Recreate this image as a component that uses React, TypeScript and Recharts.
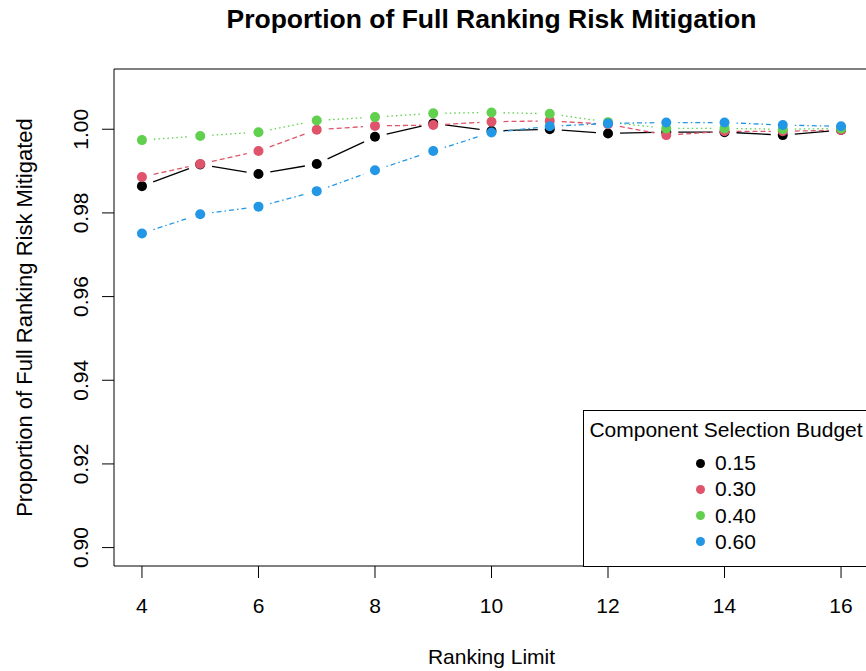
import { LineChart, Line, XAxis, YAxis, ReferenceArea, Legend, Label } from "recharts";

// ranking limit on x, one series per component selection budget
const rankingLimits = [4, 5, 6, 7, 8, 9, 10, 11, 12, 13, 14, 15, 16];
const budget015 = [0.9864, 0.9916, 0.9893, 0.9917, 0.9982, 1.0014, 0.9996, 1.0000, 0.9990, 0.9993, 0.9993, 0.9986, 0.9998];
const budget030 = [0.9886, 0.9917, 0.9948, 0.9999, 1.0008, 1.0010, 1.0018, 1.0020, 1.0012, 0.9986, 0.9995, 0.9995, 0.9998];
const budget040 = [0.9974, 0.9984, 0.9993, 1.0021, 1.0029, 1.0038, 1.0040, 1.0037, 1.0017, 1.0002, 1.0002, 1.0000, 1.0002];
const budget060 = [0.9751, 0.9797, 0.9815, 0.9852, 0.9902, 0.9948, 0.9992, 1.0007, 1.0014, 1.0016, 1.0016, 1.0010, 1.0007];

const budgetLabels = ["0.15", "0.30", "0.40", "0.60"];
const xTicks = [4, 6, 8, 10, 12, 14, 16];
const yTicks = [0.9, 0.92, 0.94, 0.96, 0.98, 1.0];

const series = [
  { key: "b015", name: budgetLabels[0], values: budget015, color: "#000000", dash: "" },
  { key: "b030", name: budgetLabels[1], values: budget030, color: "#DF536B", dash: "5 3" },
  { key: "b040", name: budgetLabels[2], values: budget040, color: "#61D04F", dash: "1.5 3" },
  { key: "b060", name: budgetLabels[3], values: budget060, color: "#2297E6", dash: "1.5 3 5 3" },
];

const data = rankingLimits.map((rank, i) => {
  const row: Record<string, number> = { rank };
  series.forEach((s) => { row[s.key] = s.values[i]; });
  return row;
});

// R-style axis ranges (4% padding around the limits)
const X_DOMAIN = [3.52, 16.48];
const Y_DOMAIN = [0.8956, 1.0144];

const FONT = "'Liberation Sans', Arial, sans-serif";
const GAP = 12; // type="b": segments stop short of each point

function pointAndSegment(color: string, dash: string) {
  return (p: any) => {
    const { cx, cy, index, points } = p;
    const next = points && points[index + 1];
    let seg = null;
    if (next) {
      const dx = next.x - cx;
      const dy = next.y - cy;
      const len = Math.hypot(dx, dy);
      if (len > 2 * GAP) {
        const ux = dx / len, uy = dy / len;
        seg = (
          <line x1={cx + ux * GAP} y1={cy + uy * GAP} x2={next.x - ux * GAP} y2={next.y - uy * GAP}
                stroke={color} strokeWidth={1.3} strokeDasharray={dash || undefined} />
        );
      }
    }
    return (
      <g key={`pt-${index}`}>
        {seg}
        <circle cx={cx} cy={cy} r={5} fill={color} />
      </g>
    );
  };
}

const YTick = ({ x, y, payload }: any) => {
  const tx = x - 12;
  return (
    <text x={tx} y={y} transform={`rotate(-90 ${tx} ${y})`} textAnchor="middle"
          fontSize={21} fontFamily={FONT} fill="#000">
      {Number(payload.value).toFixed(2)}
    </text>
  );
};

const XTick = ({ x, y, payload }: any) => (
  <text x={x} y={y + 33} textAnchor="middle" fontSize={21} fontFamily={FONT} fill="#000">
    {payload.value}
  </text>
);

const renderLegend = ({ payload }: any) => (
  <div style={{
    width: 286, height: 157, boxSizing: "border-box", border: "1px solid #000",
    background: "#fff", position: "relative", fontFamily: FONT, fontSize: 21, color: "#000",
  }}>
    <div style={{ position: "absolute", left: 0, right: 0, top: 6, lineHeight: "26px", textAlign: "center" }}>
      Component Selection Budget
    </div>
    {(payload || []).map((e: any, i: number) => (
      <div key={e.value} style={{
        position: "absolute", left: 112, top: 39 + i * 26.3, height: 26,
        display: "flex", alignItems: "center",
      }}>
        <span style={{ width: 9, height: 9, borderRadius: "50%", background: e.color, display: "inline-block" }} />
        <span style={{ marginLeft: 10, lineHeight: "26px" }}>{e.value}</span>
      </div>
    ))}
  </div>
);

export default function App() {
  return (
    <div style={{ position: "fixed", left: 0, top: 0, width: 866, height: 671, overflow: "hidden", background: "#fff" }}>
      <div style={{
        position: "absolute", left: 114, width: 755, top: 1, lineHeight: "36px", textAlign: "center",
        fontFamily: FONT, fontSize: 26.5, fontWeight: "bold", color: "#000", zIndex: 2,
      }}>
        Proportion of Full Ranking Risk Mitigation
      </div>
      <LineChart width={880} height={671} data={data}
                 margin={{ top: 69, right: 11, left: 14, bottom: 45 }}>
        <ReferenceArea x1={X_DOMAIN[0]} x2={X_DOMAIN[1]} y1={Y_DOMAIN[0]} y2={Y_DOMAIN[1]}
                       fill="none" stroke="#000" strokeWidth={1} ifOverflow="visible" />
        <XAxis dataKey="rank" type="number" domain={X_DOMAIN} ticks={xTicks} allowDataOverflow
               height={60} tickSize={12} axisLine={false} tickLine={{ stroke: "#000" }} tick={<XTick />}>
          <Label content={({ viewBox }: any) => (
            <text x={viewBox.x + viewBox.width / 2} y={viewBox.y + 98} textAnchor="middle"
                  fontSize={21} fontFamily={FONT} fill="#000">Ranking Limit</text>
          )} />
        </XAxis>
        <YAxis type="number" domain={Y_DOMAIN} ticks={yTicks} allowDataOverflow width={100}
               tickSize={12} axisLine={false} tickLine={{ stroke: "#000" }} tick={<YTick />}>
          <Label content={({ viewBox }: any) => {
            const lx = viewBox.x + 18;
            const ly = viewBox.y + viewBox.height / 2;
            return (
              <text x={lx} y={ly} transform={`rotate(-90 ${lx} ${ly})`} textAnchor="middle"
                    fontSize={22} fontFamily={FONT} fill="#000">Proportion of Full Ranking Risk Mitigated</text>
            );
          }} />
        </YAxis>
        {series.map((s) => (
          <Line key={s.key} dataKey={s.key} name={s.name} stroke={s.color} strokeOpacity={0}
                dot={pointAndSegment(s.color, s.dash)} activeDot={false} isAnimationActive={false} />
        ))}
        <Legend content={renderLegend} layout="horizontal" verticalAlign="middle" align="center"
                wrapperStyle={{ left: 583, top: 410, width: 286, height: 157 }} />
      </LineChart>
    </div>
  );
}
